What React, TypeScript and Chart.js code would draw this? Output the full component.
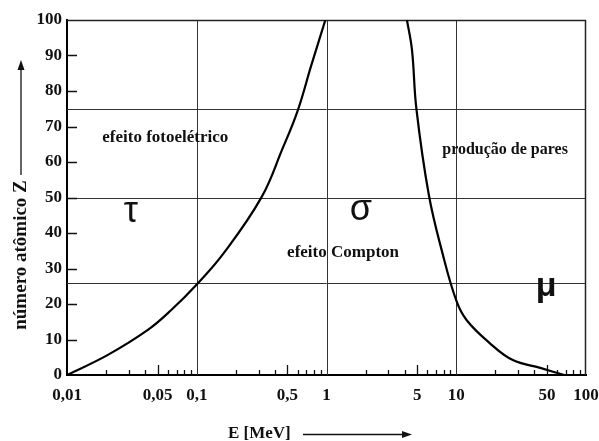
import { useEffect, useRef } from "react";
import { Chart, registerables } from "chart.js";

Chart.register(...registerables);

const FONT = "'Liberation Serif', 'Times New Roman', serif";
const SANS = "'Liberation Sans', Arial, sans-serif";

// Axis ticks
const xTickValues = [0.01, 0.05, 0.1, 0.5, 1, 5, 10, 50, 100];
const xTickLabels = ["0,01", "0,05", "0,1", "0,5", "1", "5", "10", "50", "100"];
const xDecades = [0.01, 0.1, 1, 10];
const xMinorSteps = [2, 3, 4, 5, 6, 7, 8, 9];
const yMinorTicks = [10, 20, 30, 40, 50, 60, 70, 80, 90];

// Grid lines
const gridE = [0.1, 1, 10];
const gridZ = [26, 50, 75];

// Boundary photoelectric / Compton
const photoE = [0.01, 0.0205, 0.042, 0.0636, 0.1, 0.162, 0.316, 0.454, 0.6, 0.76, 0.98];
const photoZ = [0, 5.6, 12.7, 18.3, 25.5, 34.4, 50.1, 63.4, 74.5, 87, 100];

// Boundary Compton / pair production
const pairE = [4.17, 4.56, 4.93, 6.15, 7.82, 10, 12, 18.1, 27.3, 44.4, 68];
const pairZ = [100, 91.5, 75, 50.7, 34.4, 21, 15.5, 9, 4.2, 2, 0];

// Region labels
const labelTexts = ["efeito fotoelétrico", "produção de pares", "efeito Compton"];
const labelE = [0.0187, 7.8, 0.497];
const labelZ = [67, 63.4, 34.6];
const labelSizes = [17, 16, 17];

const greekTexts = ["τ", "σ", "μ"];
const greekE = [0.031, 1.84, 49.4];
const greekZ = [46, 46.5, 24.8];

const decor = {
  id: "decor",
  beforeDatasetsDraw(chart: any) {
    const { ctx, chartArea, scales } = chart;
    const { left, right, top, bottom } = chartArea;
    const x = scales.x;
    const y = scales.y;
    ctx.save();
    ctx.strokeStyle = "#333";
    ctx.lineWidth = 1;
    ctx.beginPath();
    for (const e of gridE) {
      const px = Math.round(x.getPixelForValue(e)) + 0.5;
      ctx.moveTo(px, top);
      ctx.lineTo(px, bottom);
    }
    for (const z of gridZ) {
      const py = Math.round(y.getPixelForValue(z)) + 0.5;
      ctx.moveTo(left, py);
      ctx.lineTo(right, py);
    }
    ctx.stroke();
    // top / right frame
    ctx.strokeStyle = "#222";
    ctx.lineWidth = 1.5;
    ctx.beginPath();
    ctx.moveTo(left, top + 0.5);
    ctx.lineTo(right - 0.5, top + 0.5);
    ctx.lineTo(right - 0.5, bottom);
    ctx.stroke();
    // inward ticks
    ctx.strokeStyle = "#111";
    ctx.lineWidth = 1.3;
    ctx.beginPath();
    for (const d of xDecades) {
      for (const k of xMinorSteps) {
        const px = Math.round(x.getPixelForValue(d * k)) + 0.5;
        const len = k === 5 ? 10 : 5;
        ctx.moveTo(px, bottom);
        ctx.lineTo(px, bottom - len);
      }
    }
    for (const v of yMinorTicks) {
      const py = Math.round(y.getPixelForValue(v)) + 0.5;
      ctx.moveTo(left, py);
      ctx.lineTo(left + 10, py);
    }
    ctx.stroke();
    ctx.restore();
  },
  afterDraw(chart: any) {
    const { ctx, scales } = chart;
    const x = scales.x;
    const y = scales.y;
    ctx.save();
    ctx.fillStyle = "#111";
    ctx.textBaseline = "middle";
    ctx.textAlign = "left";
    labelTexts.forEach((t, i) => {
      ctx.font = `bold ${labelSizes[i]}px ${FONT}`;
      ctx.fillText(t, x.getPixelForValue(labelE[i]), y.getPixelForValue(labelZ[i]));
    });
    ctx.textAlign = "center";
    greekTexts.forEach((t, i) => {
      ctx.font = i === 2 ? `bold 34px ${SANS}` : `36px ${SANS}`;
      ctx.fillText(t, x.getPixelForValue(greekE[i]), y.getPixelForValue(greekZ[i]));
    });

    // y title with arrow
    ctx.save();
    ctx.translate(21, 255);
    ctx.rotate(-Math.PI / 2);
    ctx.font = `bold 19px ${FONT}`;
    ctx.textAlign = "center";
    ctx.fillText("número atômico Z", 0, 0);
    ctx.restore();
    ctx.strokeStyle = "#111";
    ctx.lineWidth = 1.3;
    ctx.beginPath();
    ctx.moveTo(21, 175);
    ctx.lineTo(21, 68);
    ctx.stroke();
    ctx.beginPath();
    ctx.moveTo(21, 60);
    ctx.lineTo(17.5, 70);
    ctx.lineTo(24.5, 70);
    ctx.closePath();
    ctx.fill();

    // x title with arrow
    ctx.textAlign = "left";
    ctx.font = `bold 17px ${FONT}`;
    ctx.fillText("E [MeV]", 228, 434);
    ctx.beginPath();
    ctx.moveTo(303, 434.5);
    ctx.lineTo(403, 434.5);
    ctx.stroke();
    ctx.beginPath();
    ctx.moveTo(412, 434.5);
    ctx.lineTo(402, 431);
    ctx.lineTo(402, 438);
    ctx.closePath();
    ctx.fill();
    ctx.restore();
  },
};

export default function App() {
  const ref = useRef<HTMLCanvasElement>(null);
  useEffect(() => {
    const tickFont = { family: FONT, size: 17, weight: "bold" as const };
    const chart = new Chart(ref.current!, {
      type: "line",
      data: {
        datasets: [
          {
            data: photoE.map((e, i) => ({ x: e, y: photoZ[i] })),
            borderColor: "#000",
            borderWidth: 2.2,
            pointRadius: 0,
            tension: 0.4,
            fill: false,
          },
          {
            data: pairE.map((e, i) => ({ x: e, y: pairZ[i] })),
            borderColor: "#000",
            borderWidth: 2.2,
            pointRadius: 0,
            tension: 0.4,
            fill: false,
          },
        ],
      },
      options: {
        responsive: false,
        animation: false,
        layout: { padding: { top: 20, right: 13, left: 0, bottom: 0 } },
        plugins: { legend: { display: false }, tooltip: { enabled: false } },
        scales: {
          x: {
            type: "logarithmic",
            min: 0.01,
            max: 100,
            grid: { display: false, drawTicks: false },
            border: { display: true, width: 2, color: "#000" },
            ticks: {
              autoSkip: false,
              maxRotation: 0,
              padding: 10,
              color: "#111",
              font: tickFont,
              callback: (_v: any, i: number) => xTickLabels[i],
            },
            afterBuildTicks: (s: any) => {
              s.ticks = xTickValues.map((v) => ({ value: v }));
            },
            afterFit: (s: any) => {
              s.height = 66;
              s.paddingLeft = 0;
              s.paddingRight = 0;
            },
          },
          y: {
            min: 0,
            max: 100,
            grid: { display: false, drawTicks: false },
            border: { display: true, width: 2, color: "#000" },
            ticks: { stepSize: 10, padding: 5, color: "#111", font: tickFont },
            afterFit: (s: any) => {
              s.width = 67;
              s.paddingTop = 0;
              s.paddingBottom = 0;
            },
          },
        },
      },
      plugins: [decor],
    });
    return () => chart.destroy();
  }, []);
  return (
    <div style={{ position: "fixed", left: 0, top: 0, background: "#fff" }}>
      <canvas ref={ref} width={599} height={441} style={{ display: "block" }} />
    </div>
  );
}
